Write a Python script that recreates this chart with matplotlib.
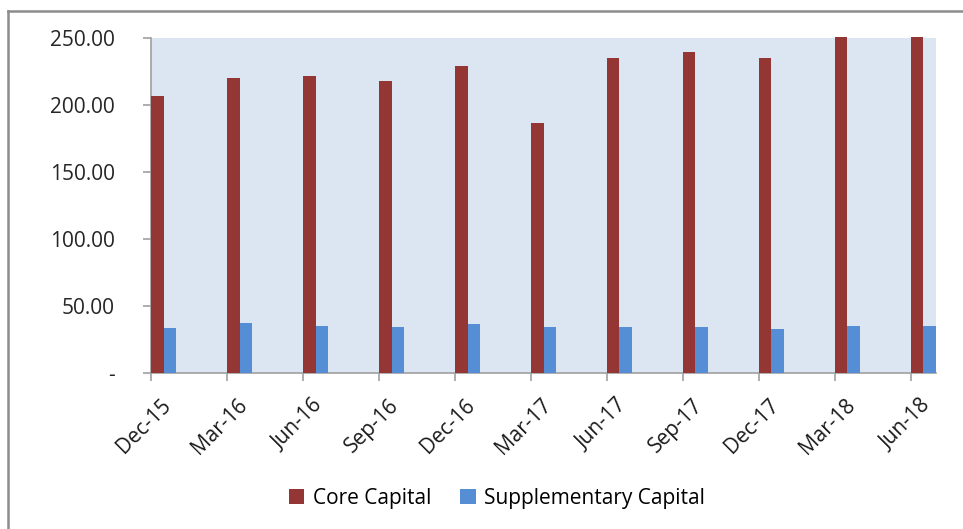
import numpy as np
import matplotlib
matplotlib.use("Agg")
import matplotlib.pyplot as plt
from matplotlib.lines import Line2D
from matplotlib.transforms import ScaledTranslation

# Data
quarters = ["Dec-15", "Mar-16", "Jun-16", "Sep-16", "Dec-16", "Mar-17",
            "Jun-17", "Sep-17", "Dec-17", "Mar-18", "Jun-18"]
month_offset = [0, 3, 6, 9, 12, 15, 18, 21, 24, 27, 30]
core_capital = [206.9, 220.4, 221.6, 217.6, 229.3, 186.8,
                234.8, 239.8, 234.8, 251.0, 251.0]
supplementary_capital = [33.3, 37.3, 35.3, 34.3, 36.6, 34.3,
                         34.3, 34.3, 32.6, 35.3, 35.3]
y_ticks = [0, 50, 100, 150, 200, 250]
y_tick_labels = ["-", "50.00", "100.00", "150.00", "200.00", "250.00"]

plt.rcParams['font.family'] = ['Open Sans', 'DejaVu Sans']

fig = plt.figure(figsize=(9.63, 5.29), dpi=100)
ax = fig.add_axes([151 / 963, 1 - 373 / 529, (936 - 151) / 963, (373 - 38) / 529])
ax.set_facecolor("#DCE6F2")

x = np.array(month_offset, dtype=float)
ax.bar(x, core_capital, width=0.5, align="edge", color="#943634",
       label="Core Capital", clip_on=False, zorder=3)
ax.bar(x + 0.5, supplementary_capital, width=0.5, align="edge", color="#558ED5",
       label="Supplementary Capital", zorder=3)

ax.set_xlim(0, 31)
ax.set_ylim(0, 250)

# axes styling
for side in ["top", "right"]:
    ax.spines[side].set_visible(False)
for side in ["left", "bottom"]:
    ax.spines[side].set_color("#A0A0A0")
    ax.spines[side].set_linewidth(1.2)

ax.set_yticks(y_ticks)
ax.set_yticklabels(y_tick_labels, fontsize=15, color="#262626")
ax.set_xticks(x)
ax.set_xticklabels(quarters, fontsize=15, color="#1a1a1a", rotation=45,
                   ha="right", va="center", rotation_mode="anchor")
ax.tick_params(axis="both", color="#A0A0A0", length=6, width=1.2)
ax.tick_params(axis="y", pad=20)

# move x labels like the spreadsheet layout
offset = ScaledTranslation(0.17, -0.16, fig.dpi_scale_trans)
for lbl in ax.get_xticklabels():
    lbl.set_transform(lbl.get_transform() + offset)

# legend below the plot
fig.legend(loc="center", bbox_to_anchor=(0.516, 0.058), ncol=2, frameon=False,
           fontsize=15, handlelength=0.75, handleheight=0.75,
           handletextpad=0.4, columnspacing=1.4)

# frame of the screenshot
fig.add_artist(Line2D([8 / 963, 8 / 963], [0, 1 - 11 / 529],
                      color="#8C8C8C", linewidth=1.8))
fig.add_artist(Line2D([8 / 963, 1], [1 - 11 / 529, 1 - 11 / 529],
                      color="#8C8C8C", linewidth=1.8))

fig.savefig("out.png", dpi=100)
